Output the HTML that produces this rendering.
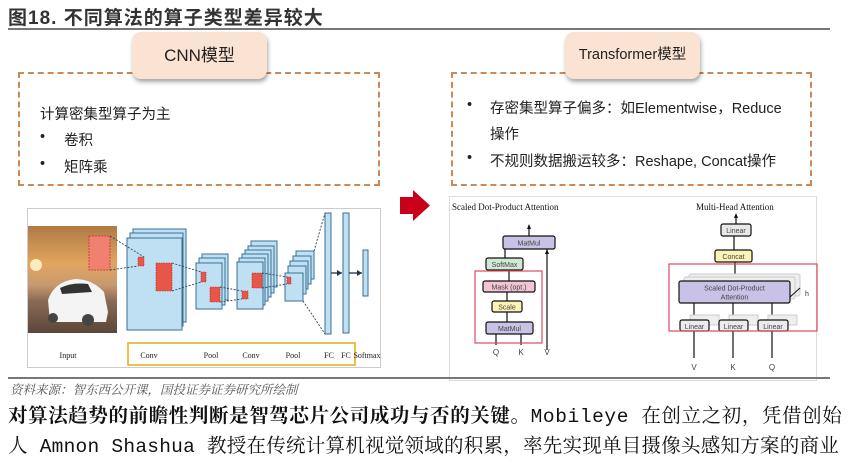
<!DOCTYPE html>
<html><head><meta charset="utf-8">
<style>
*{margin:0;padding:0;box-sizing:border-box}
body{width:848px;height:462px;background:#fff;position:relative;overflow:hidden;font-family:"Liberation Sans","Noto Sans CJK SC",sans-serif;color:#222}
.abs{position:absolute}
.title{left:8px;top:3px;font-size:19px;font-weight:bold;font-family:"Liberation Sans","Noto Sans CJK SC",sans-serif;color:#333;letter-spacing:1px;white-space:nowrap}
.hl{left:8px;width:822px;height:2px;background:#777}
.dash{border:2px dashed #c98a55}
.lbl{background:#fbe3d3;border-radius:9px;box-shadow:1px 3px 4px rgba(0,0,0,.35);text-align:center;color:#222}
.t14{font-size:14.5px;white-space:nowrap;color:#222}
.src{left:10px;top:380px;font-size:12.5px;font-style:italic;color:#555;font-family:"Liberation Serif","Noto Serif CJK SC",serif;white-space:nowrap}
.body{left:8px;font-size:19.5px;font-family:"Liberation Mono","Noto Serif CJK SC",serif;white-space:nowrap;color:#111}
</style></head><body>
<div class="abs title">图18. 不同算法的算子类型差异较大</div>
<div class="abs hl" style="top:28px"></div>

<div class="abs dash" style="left:18px;top:72px;width:362px;height:114px"></div>
<div class="abs lbl" style="left:132px;top:32px;width:135px;height:47px;line-height:47px;font-size:17px">CNN模型</div>
<div class="abs t14" style="left:40px;top:103px">计算密集型算子为主</div>
<div class="abs t14" style="left:40px;top:129px">•</div><div class="abs t14" style="left:64px;top:129px">卷积</div>
<div class="abs t14" style="left:40px;top:156px">•</div><div class="abs t14" style="left:64px;top:156px">矩阵乘</div>

<div class="abs dash" style="left:451px;top:72px;width:361px;height:114px"></div>
<div class="abs lbl" style="left:565px;top:32px;width:135px;height:47px;line-height:47px;font-size:14.5px">Transformer模型</div>
<div class="abs t14" style="left:467px;top:97px">•</div><div class="abs t14" style="left:490px;top:97px">存密集型算子偏多：如Elementwise，Reduce</div>
<div class="abs t14" style="left:490px;top:123px">操作</div>
<div class="abs t14" style="left:467px;top:150px">•</div><div class="abs t14" style="left:490px;top:150px">不规则数据搬运较多：Reshape, Concat操作</div>

<svg class="abs" style="left:0;top:0" width="848" height="462">
<polygon points="400,197 413,197 413,190 430,205.5 413,221 413,214 400,214" fill="#c8001a"/>
<rect x="27.5" y="208.5" width="353" height="159" fill="#fff" stroke="#ccc"/>
<defs><linearGradient id="sky" x1="0" y1="0" x2="0" y2="1">
<stop offset="0" stop-color="#b07a45"/><stop offset="0.35" stop-color="#e2a55f"/><stop offset="0.55" stop-color="#c89a70"/><stop offset="0.7" stop-color="#8a6a55"/><stop offset="1" stop-color="#5a4638"/></linearGradient></defs>
<rect x="28" y="226" width="89" height="107" fill="url(#sky)"/>
<circle cx="36" cy="265" r="6" fill="#fff3c8" opacity="0.9"/>
<path d="M48,300 Q54,282 75,279 Q92,279 104,292 L108,312 L106,322 L50,322 Z" fill="#f4f4f4"/>
<path d="M60,288 Q72,282 88,284 L92,292 L62,294 Z" fill="#333"/>
<circle cx="53" cy="318" r="5" fill="#444"/><circle cx="88" cy="320" r="6" fill="#444"/>
<rect x="89" y="236" width="21" height="34" fill="#f08070" stroke="#c44" stroke-dasharray="2,1"/>
<g fill="#bfe0f3" stroke="#3a6f93" stroke-width="1">
<rect x="133" y="229" width="53" height="93"/><rect x="130" y="233" width="53" height="93"/><rect x="127" y="238" width="55" height="92"/>
<rect x="202" y="254" width="26" height="46"/><rect x="199" y="258" width="26" height="47"/><rect x="196" y="263" width="26" height="46"/>
<rect x="251" y="241" width="26" height="46"/><rect x="248" y="246" width="26" height="47"/><rect x="245" y="250" width="26" height="47"/><rect x="242" y="254" width="26" height="47"/><rect x="239" y="258" width="26" height="47"/><rect x="237" y="262" width="26" height="47"/>
<rect x="296" y="251" width="18" height="28"/><rect x="293" y="256" width="18" height="28"/><rect x="290" y="261" width="18" height="28"/><rect x="288" y="266" width="18" height="28"/><rect x="285" y="273" width="18" height="28"/>
<rect x="325" y="213" width="6" height="121"/><rect x="343" y="213" width="6" height="120"/><rect x="363" y="250" width="5" height="46"/>
</g>
<g fill="#e8564a" stroke="#a22" stroke-width="0.6" stroke-dasharray="1.5,1">
<rect x="138" y="257" width="6" height="9"/><rect x="156" y="263" width="16" height="28"/>
<rect x="201" y="272" width="5" height="10"/><rect x="210" y="287" width="10" height="15"/>
<rect x="252" y="273" width="10" height="15"/><rect x="242" y="291" width="6" height="8"/>
<rect x="287" y="277" width="4" height="7"/>
</g>
<g stroke="#345" stroke-width="0.9" stroke-dasharray="2,1.5" fill="none">
<line x1="110" y1="236" x2="144" y2="257"/><line x1="110" y1="270" x2="138" y2="266"/>
<line x1="172" y1="263" x2="201" y2="272"/><line x1="172" y1="291" x2="201" y2="282"/>
<line x1="220" y1="287" x2="242" y2="291"/><line x1="220" y1="302" x2="242" y2="299"/>
<line x1="262" y1="273" x2="287" y2="277"/><line x1="262" y1="288" x2="287" y2="284"/>
<line x1="314" y1="251" x2="325" y2="213"/><line x1="303" y1="301" x2="325" y2="334"/>
</g>
<g stroke="#234" stroke-width="1.3"><line x1="331" y1="273" x2="342" y2="273"/><line x1="349" y1="273" x2="362" y2="273"/></g>
<polygon points="342,273 337,270 337,276" fill="#234"/><polygon points="362,273 357,270 357,276" fill="#234"/>
<rect x="128" y="343" width="227" height="22" fill="none" stroke="#e8b020" stroke-width="1.6"/>
<g font-family="Liberation Serif,serif" font-size="8" fill="#222" text-anchor="middle">
<text x="68" y="358">Input</text><text x="149" y="358">Conv</text><text x="211" y="358">Pool</text><text x="251" y="358">Conv</text><text x="293" y="358">Pool</text><text x="329" y="358">FC</text><text x="346" y="358">FC</text><text x="367" y="358">Softmax</text>
</g>

<rect x="449.5" y="196.5" width="367" height="184" fill="#fff" stroke="#ddd"/>
<g font-family="Liberation Serif,serif" font-size="9" fill="#111">
<text x="452" y="210">Scaled Dot-Product Attention</text><text x="696" y="210">Multi-Head Attention</text></g>
<g stroke="#111" stroke-width="1.2">
<line x1="529" y1="236" x2="529" y2="226"/><line x1="505" y1="258" x2="505" y2="249"/><line x1="509" y1="281" x2="509" y2="270"/><line x1="507" y1="301" x2="507" y2="292"/><line x1="507" y1="322" x2="507" y2="312"/>
<line x1="496" y1="345" x2="496" y2="334"/><line x1="521" y1="345" x2="521" y2="334"/><line x1="547" y1="350" x2="547" y2="249"/>
<line x1="736" y1="224" x2="736" y2="215"/><line x1="734" y1="250" x2="734" y2="236"/><line x1="735" y1="281" x2="735" y2="262"/>
<line x1="694" y1="322" x2="694" y2="303"/><line x1="733" y1="322" x2="733" y2="303"/><line x1="772" y1="322" x2="772" y2="303"/>
<line x1="694" y1="358" x2="694" y2="331"/><line x1="733" y1="358" x2="733" y2="331"/><line x1="772" y1="358" x2="772" y2="331"/>
</g>
<g fill="#eee" stroke="#ccc"><rect x="689" y="274" width="111" height="22" rx="2"/><rect x="684" y="277" width="111" height="22" rx="2"/>
<rect x="690" y="315" width="29" height="10"/><rect x="729" y="315" width="29" height="10"/><rect x="768" y="315" width="29" height="10"/></g>
<g stroke="#111" stroke-width="1.2">
<rect x="503" y="236" width="52" height="13" rx="2" fill="#c9c2e6"/>
<rect x="486" y="258" width="37" height="12" rx="2" fill="#cfe9d6"/>
<rect x="483" y="281" width="52" height="11" rx="2" fill="#f4c4d6"/>
<rect x="492" y="301" width="30" height="11" rx="2" fill="#fbf3b5"/>
<rect x="486" y="322" width="47" height="12" rx="2" fill="#c9c2e6"/>
<rect x="721" y="224" width="30" height="12" rx="2" fill="#e8e8e8"/>
<rect x="715" y="250" width="37" height="12" rx="2" fill="#fbf3b5"/>
<rect x="679" y="281" width="111" height="22" rx="2" fill="#c9c2e6"/>
<rect x="680" y="320" width="29" height="11" rx="2" fill="#e8ecea"/><rect x="719" y="320" width="29" height="11" rx="2" fill="#e8ecea"/><rect x="758" y="320" width="30" height="11" rx="2" fill="#e8ecea"/>
</g>
<line x1="790" y1="297" x2="800" y2="288" stroke="#111"/><text x="805" y="296" font-size="7" fill="#333">h</text>
<g fill="#111"><polygon points="529,224 527,229 531,229"/><polygon points="547,249 545,254 549,254"/><polygon points="736,213 734,218 738,218"/></g>
<g font-family="Liberation Sans,sans-serif" font-size="7" fill="#444" text-anchor="middle">
<text x="529" y="245.5">MatMul</text><text x="504.5" y="267">SoftMax</text><text x="509" y="289.5">Mask (opt.)</text><text x="507" y="309.5">Scale</text><text x="509.5" y="331">MatMul</text>
<text x="736" y="233">Linear</text><text x="733.5" y="259">Concat</text><text x="734.5" y="290.5">Scaled Dot-Product</text><text x="734.5" y="299.5">Attention</text>
<text x="694.5" y="329">Linear</text><text x="733.5" y="329">Linear</text><text x="773" y="329">Linear</text>
<text x="496" y="355" font-size="8">Q</text><text x="521" y="355" font-size="8">K</text><text x="547" y="355" font-size="8">V</text>
<text x="694" y="370" font-size="8">V</text><text x="733" y="370" font-size="8">K</text><text x="772" y="370" font-size="8">Q</text>
</g>
<rect x="475" y="271" width="67" height="72" fill="none" stroke="#e04a5a" stroke-width="1.2"/>
<rect x="669" y="264" width="148" height="67" fill="none" stroke="#e04a5a" stroke-width="1.2"/>
</svg>
<div class="abs hl" style="top:377px"></div>
<div class="abs src">资料来源：智东西公开课，国投证券证券研究所绘制</div>
<div class="abs body" style="top:400px;letter-spacing:0.6px"><b>对算法趋势的前瞻性判断是智驾芯片公司成功与否的关键。</b>Mobileye 在创立之初，凭借创始</div>
<div class="abs body" style="top:430px;letter-spacing:0.25px">人 Amnon Shashua 教授在传统计算机视觉领域的积累，率先实现单目摄像头感知方案的商业</div>
</body></html>
